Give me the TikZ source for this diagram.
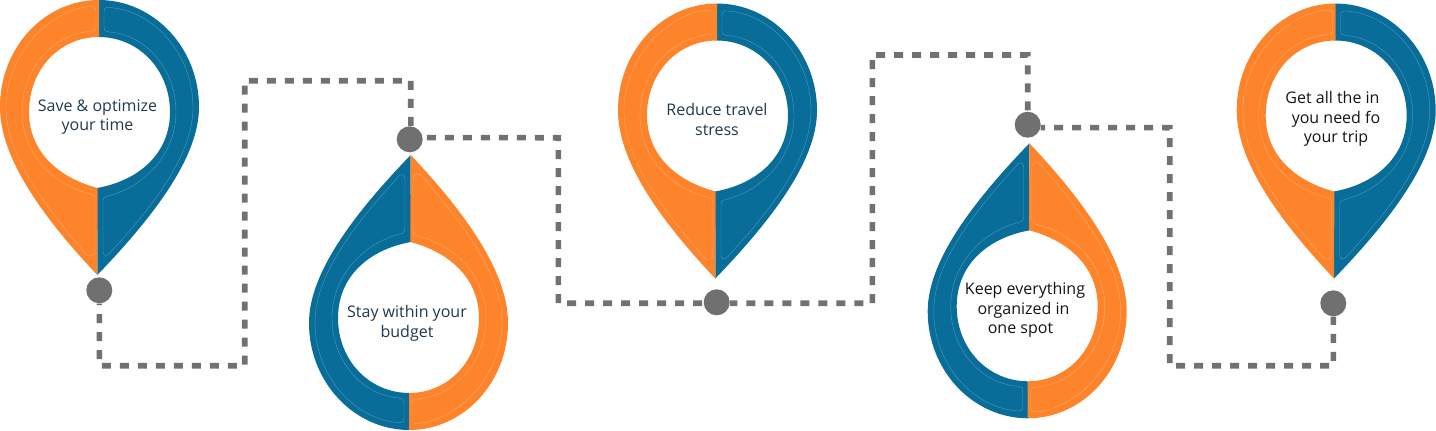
\documentclass[tikz,border=0pt]{standalone}
\usepackage{fontspec}
\setmainfont{Open Sans}
\definecolor{pinorange}{HTML}{FD842B}
\definecolor{pinblue}{HTML}{086D98}
\definecolor{dotgray}{HTML}{707070}
\definecolor{linkgray}{HTML}{717171}
\definecolor{labelslate}{HTML}{1F3A4A}
\definecolor{labelblack}{HTML}{141414}
\newcommand{\pinbody}{%
  \fill[pinblue] (-0.5,0) .. controls (55,0) and (100,48) .. (100,107)
    .. controls (100,152) and (64,207) .. (-1.7,275)
    -- (-1.8,188) .. controls (42,180) and (71,152) .. (71,112)
    .. controls (71,70) and (40,37) .. (-0.5,37) -- cycle;
  \fill[pinorange] (0,0) .. controls (-55,0) and (-99,48) .. (-99,107)
    .. controls (-99,152) and (-66,207) .. (-1.7,275)
    -- (-1.3,188) .. controls (-40,178) and (-70,152) .. (-70,112)
    .. controls (-70,70) and (-40,37) .. (0,37) -- cycle;
  \draw[insetline] (-9,6.5) .. controls (-5,6.5) and (-3,7) .. (-3,11) -- (-3,27)
    .. controls (-3,30.5) and (-5,31) .. (-8,31)
    .. controls (-48,35) and (-77,70) .. (-77,112)
    .. controls (-77,152) and (-48,185) .. (-8,194)
    .. controls (-5,195) and (-4,196) .. (-4,199) -- (-4,250)
    .. controls (-4,254) and (-6,256) .. (-9,256)
    .. controls (-11,256) and (-12,255) .. (-13,254)
    .. controls (-55,205) and (-93,155) .. (-93,107)
    .. controls (-93,55) and (-50,10) .. cycle;
  \draw[insetline] (5,12) .. controls (5,8) and (7,7) .. (10,7.5)
    .. controls (55,10) and (94,55) .. (94,107)
    .. controls (94,155) and (55,205) .. (9,255)
    .. controls (7,256) and (4,256) .. (4,251) -- (4,201)
    .. controls (4,198) and (5,197) .. (9,196)
    .. controls (48,186) and (77,152) .. (77,112)
    .. controls (77,70) and (48,35) .. (10,32)
    .. controls (7,31.5) and (5,31) .. (5,27) -- cycle;
}
\tikzset{
  x=1pt,y=-1pt,
  insetline/.style={draw=white,opacity=0.3,line width=0.4pt},
  stopdot/.style={circle,fill=dotgray,inner sep=0pt,minimum size=26pt},
  link/.style={draw=linkgray,line width=5.6pt,dash pattern=on 9pt off 9pt},
  pinlabel/.style={font=\fontsize{16}{19.6}\selectfont,align=center,text=labelslate,inner sep=0pt},
}
\begin{document}
\begin{tikzpicture}
\useasboundingbox (0,0) rectangle (1436,431);
\begin{scope}[shift={(99,0)}]\pinbody\end{scope}
\begin{scope}[shift={(409,430)},rotate=180]\pinbody\end{scope}
\begin{scope}[shift={(717,3.5)}]\pinbody\end{scope}
\begin{scope}[shift={(1027.7,418.3)},rotate=180]\pinbody\end{scope}
\begin{scope}[shift={(1335.7,3.5)}]\pinbody\end{scope}

\node[stopdot] (c1) at (99.3,290.3) {};
\node[stopdot] (c2) at (409.7,139.3) {};
\node[stopdot] (c3) at (716.7,302.3) {};
\node[stopdot] (c4) at (1027.7,124.7) {};
\node[stopdot] (c5) at (1333.3,303.3) {};

\coordinate (a1) at (99.3,365.7);
\coordinate (a2) at (244.7,365.7);
\coordinate (a3) at (244.7,80.7);
\coordinate (a4) at (410.7,80.7);
\coordinate (b1) at (558.3,137.7);
\coordinate (b2) at (558.3,303.3);
\coordinate (d1) at (872.3,303.3);
\coordinate (d2) at (872.3,55);
\coordinate (d3) at (1027.7,55);
\coordinate (e1) at (1169.7,127.7);
\coordinate (e2) at (1169.7,365.7);
\coordinate (e3) at (1333.3,365.7);

\draw[link,dash phase=7.3pt] (c1) -- (a1) -- (a2) -- (a3) -- (a4) -- (c2.85.6);
\draw[link,dash phase=14pt] (c2.7) -- (b1) -- (b2) -- (c3.184);
\draw[link,dash phase=1.4pt] (c3.-4) -- (d1) -- (d2) -- (d3) -- (c4);
\draw[link,dash phase=4.4pt] (c4.-13) -- (e1) -- (e2) -- (e3) -- (c5);

\node[pinlabel] (t1) at (97.5,117) {Save \& optimize\\your time};
\node[pinlabel] (t2) at (407,323.5) {Stay within your\\budget};
\node[pinlabel] (t3) at (717,119.5) {Reduce travel\\stress};
\node[pinlabel,text=labelblack] (t4) at (1025,310) {Keep everything\\\hspace*{-3pt}organized in\\\hspace*{-9pt}one spot};
\node[pinlabel,text=labelblack] (t5) at (1336,119) {Get all the in\hspace*{7pt}\\you need fo\\your trip};
\end{tikzpicture}
\end{document}
